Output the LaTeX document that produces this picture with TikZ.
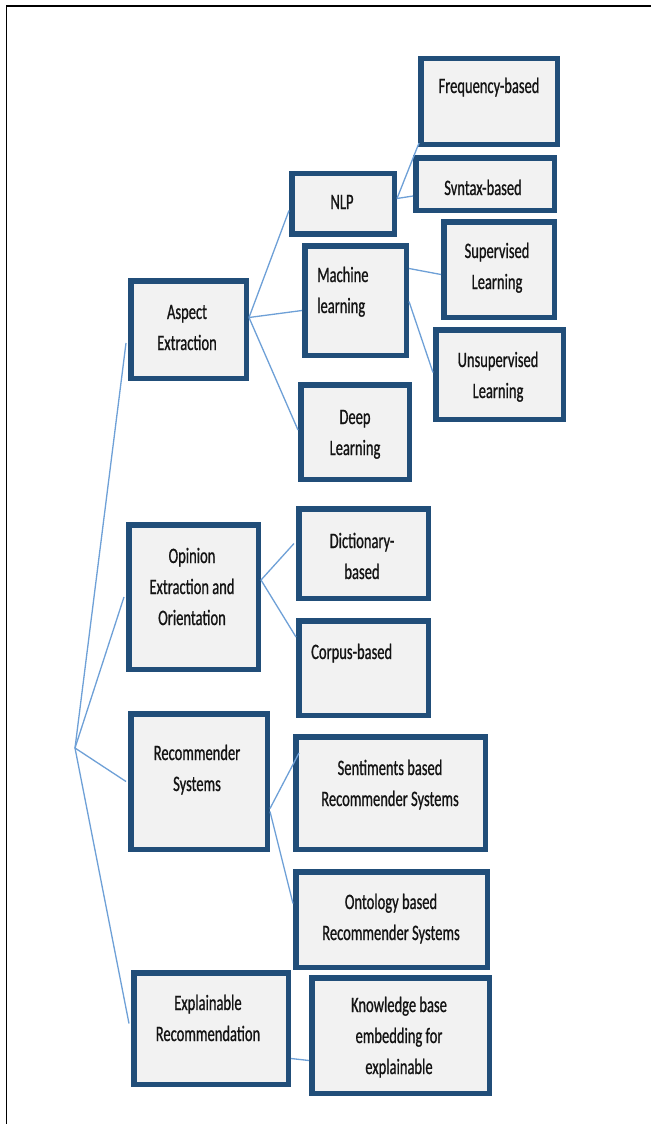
\documentclass[tikz,border=0pt]{standalone}
\usepackage{fontspec}
\setmainfont[FakeStretch=0.66,FakeBold=0.8]{Carlito}
\definecolor{boxblue}{RGB}{33,78,121}
\definecolor{boxfill}{RGB}{242,242,242}
\definecolor{linkblue}{RGB}{110,160,215}
\definecolor{txt}{RGB}{20,20,20}
\begin{document}
\begin{tikzpicture}[x=1pt,y=-1pt,
  box/.style={draw=boxblue,line width=5.5pt,fill=boxfill,rectangle,inner sep=0pt},
  lbl/.style={text=txt,font=\fontsize{22}{31}\selectfont,inner sep=0pt,anchor=base,align=center},
  lbll/.style={lbl,align=left,anchor=base west},
  link/.style={draw=linkblue,line width=1.3pt}]
\useasboundingbox (0,0) rectangle (651,1124);
\fill[white] (0,0) rectangle (651,1124);
% frame
\draw[black,line width=1.6pt] (6.5,1124) -- (6.5,6) -- (651,6);
% boxes: center (x,y), size = outer - 5.5
\node[box,minimum width=136.5pt,minimum height=85.5pt] (freq) at (489,101.5) {};
\node[box,minimum width=138.5pt,minimum height=52.5pt] (syn) at (485,184) {};
\node[box,minimum width=102.5pt,minimum height=60.5pt] (nlp) at (343,203.5) {};
\node[box,minimum width=101.5pt,minimum height=109.5pt] (ml) at (355.5,300.5) {};
\node[box,minimum width=110.5pt,minimum height=95.5pt] (sup) at (499,269.5) {};
\node[box,minimum width=127.5pt,minimum height=89.5pt] (unsup) at (499.5,374.5) {};
\node[box,minimum width=108.5pt,minimum height=94.5pt] (deep) at (355,432) {};
\node[box,minimum width=115.5pt,minimum height=97.5pt] (aspect) at (188.5,329.5) {};
\node[box,minimum width=129.5pt,minimum height=144.5pt] (opinion) at (193.5,597) {};
\node[box,minimum width=129.5pt,minimum height=89.5pt] (dict) at (363.5,553.5) {};
\node[box,minimum width=129.5pt,minimum height=94.5pt] (corpus) at (363.5,668) {};
\node[box,minimum width=136.5pt,minimum height=135.5pt] (recsys) at (199,781.5) {};
\node[box,minimum width=189.5pt,minimum height=112.5pt] (senti) at (390.5,793) {};
\node[box,minimum width=191.5pt,minimum height=95.5pt] (onto) at (391.5,919.5) {};
\node[box,minimum width=154.5pt,minimum height=111.5pt] (expl) at (211,1028.5) {};
\node[box,minimum width=177.5pt,minimum height=115.5pt] (know) at (400.5,1035.5) {};
% texts (anchor at baseline of last line)
\node[lbl] (freq-t) at (489,93) {Frequency-based};
\node[lbl] (syn-t) at (483,195) {Svntax-based};
\node[lbl] (nlp-t) at (342,209) {NLP};
\node[lbll] (ml-t) at (317,313) {Machine\\learning};
\node[lbl] (sup-t) at (497,289) {Supervised\\Learning};
\node[lbl] (unsup-t) at (498,398) {Unsupervised\\Learning};
\node[lbl] (deep-t) at (355,455) {Deep\\Learning};
\node[lbl] (aspect-t) at (187,350) {Aspect\\Extraction};
\node[lbl] (opinion-t) at (192,625) {Opinion\\Extraction and\\Orientation};
\node[lbl] (dict-t) at (362,579) {Dictionary-\\based};
\node[lbll] (corpus-t) at (311,659) {Corpus-based};
\node[lbl] (recsys-t) at (197,791) {Recommender\\Systems};
\node[lbl] (senti-t) at (390,806) {Sentiments based\\Recommender Systems};
\node[lbl] (onto-t) at (391,940) {Ontology based\\Recommender Systems};
\node[lbl] (expl-t) at (208,1041) {Explainable\\Recommendation};
\node[lbl] (know-t) at (399,1074) {Knowledge base\\embedding for\\explainable};
% connectors
\coordinate (root) at (75,748);
\draw[link] (root) -- ([shift={(-2,13.5)}]aspect.west);
\draw[link] (root) -- ([shift={(-2,0)}]opinion.west);
\draw[link] (root) -- ([shift={(-2,0)}]recsys.west);
\draw[link] (root) -- ([shift={(-2,-5)}]expl.west);
\draw[link] ([shift={(0,-12)}]aspect.east) -- ([shift={(0,7)}]nlp.west);
\draw[link] ([shift={(0,-12)}]aspect.east) -- ([shift={(0,10)}]ml.west);
\draw[link] ([shift={(0,-12)}]aspect.east) -- ([shift={(0,-2)}]deep.west);
\draw[link] ([shift={(0,-5)}]nlp.east) -- ([shift={(1,-4)}]freq.south west);
\draw[link] ([shift={(0,-5)}]nlp.east) -- ([shift={(0,12)}]syn.west);
\draw[link] ([shift={(0,-32)}]ml.east) -- ([shift={(0,5)}]sup.west);
\draw[link] ([shift={(0,1)}]ml.east) -- ([shift={(0,-2)}]unsup.west);
\draw[link] ([shift={(0,-17)}]opinion.east) -- ([shift={(-2,-10)}]dict.west);
\draw[link] ([shift={(0,-17)}]opinion.east) -- ([shift={(0,-31)}]corpus.west);
\draw[link] ([shift={(0,27)}]recsys.east) -- ([shift={(6,-40)}]senti.west);
\draw[link] ([shift={(0,30)}]recsys.east) -- ([shift={(0,-16)}]onto.west);
\draw[link] ([shift={(0,30)}]expl.east) -- ([shift={(0,25)}]know.west);
\end{tikzpicture}
\end{document}
